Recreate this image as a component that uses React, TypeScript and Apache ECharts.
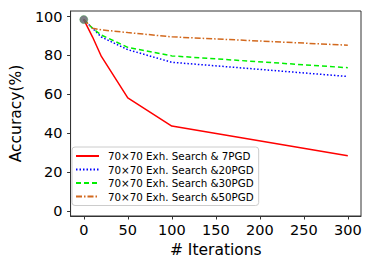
import React, { useEffect, useRef } from "react";
import * as echarts from "echarts";

const iterations = [0, 10, 20, 50, 100, 300];
const pgd7 = [98.5, 89.5, 79.5, 58.2, 43.7, 28.4];
const pgd20 = [98.5, 94, 89.5, 83, 76.5, 69.2];
const pgd30 = [98.5, 94, 90.5, 84.2, 79.8, 73.7];
const pgd50 = [98.5, 94, 93.2, 91.8, 89.6, 85.3];
const seriesNames = [
  "70×70 Exh. Search & 7PGD",
  "70×70 Exh. Search &20PGD",
  "70×70 Exh. Search &30PGD",
  "70×70 Exh. Search &50PGD",
];
const xTicks = [0, 50, 100, 150, 200, 250, 300];
const yTicks = [0, 20, 40, 60, 80, 100];
const startPoint = [0, 98.5];

export default function App() {
  const ref = useRef<HTMLDivElement>(null);
  useEffect(() => {
    if (!ref.current) return;
    const chart = echarts.init(ref.current, undefined, { renderer: "svg" });
    const font = "DejaVu Sans";
    const mk = (vals: number[]) => iterations.map((x, i) => [x, vals[i]]);
    const lineSeries = (name: string, vals: number[], color: string, type: any) => ({
      name,
      type: "line",
      data: mk(vals),
      symbol: "none",
      lineStyle: { color, width: 1.5, type },
      itemStyle: { color },
      z: 3,
    });
    chart.setOption({
      animation: false,
      backgroundColor: "#fff",
      textStyle: { fontFamily: font },
      grid: {
        left: 68,
        right: 12,
        top: 11,
        bottom: 55,
        show: true,
        borderColor: "#333",
        borderWidth: 1,
      },
      xAxis: {
        type: "value",
        min: -15,
        max: 315,
        name: "# Iterations",
        nameLocation: "middle",
        nameGap: 24,
        nameTextStyle: { fontSize: 15.5, color: "#000", fontFamily: font },
        splitLine: { show: false },
        axisLine: { show: true, onZero: false, lineStyle: { color: "#333" } },
        axisTick: { show: true, length: 3.5, customValues: xTicks, lineStyle: { color: "#333" } },
        axisLabel: { customValues: xTicks, fontSize: 14.5, color: "#000", margin: 6, fontFamily: font },
      },
      yAxis: {
        type: "value",
        min: -2.6,
        max: 102.9,
        name: "Accuracy(%)",
        nameLocation: "middle",
        nameGap: 40,
        nameTextStyle: { fontSize: 15.5, color: "#000", fontFamily: font },
        splitLine: { show: false },
        axisLine: { show: true, onZero: false, lineStyle: { color: "#333" } },
        axisTick: { show: true, length: 3.5, customValues: yTicks, lineStyle: { color: "#333" } },
        axisLabel: { customValues: yTicks, fontSize: 14.5, color: "#000", margin: 8, fontFamily: font },
      },
      legend: {
        orient: "vertical",
        left: 72,
        top: 147,
        itemWidth: 23,
        itemHeight: 8,
        itemGap: 3.5,
        padding: [4, 5, 4, 3],
        backgroundColor: "rgba(255,255,255,0.8)",
        borderColor: "#ccc",
        borderWidth: 1,
        borderRadius: 3,
        itemStyle: { opacity: 0 },
        textStyle: { fontSize: 10.3, color: "#000", fontFamily: font, padding: [0, 0, 0, 4] },
        data: seriesNames,
      },
      series: [
        lineSeries(seriesNames[0], pgd7, "#ff0000", "solid"),
        lineSeries(seriesNames[1], pgd20, "#0000ff", [1.5, 2]),
        lineSeries(seriesNames[2], pgd30, "#00ee00", [5, 3]),
        lineSeries(seriesNames[3], pgd50, "#d2691e", [6, 2, 1.5, 2]),
        {
          name: "start",
          type: "scatter",
          data: [startPoint],
          symbolSize: 8,
          itemStyle: { color: "#5c5c68", borderColor: "#3a9a4a", borderWidth: 0.6 },
          z: 5,
        },
      ],
    });
    return () => chart.dispose();
  }, []);
  return <div ref={ref} style={{ width: 373, height: 271, position: "absolute", left: 0, top: 0 }} />;
}
